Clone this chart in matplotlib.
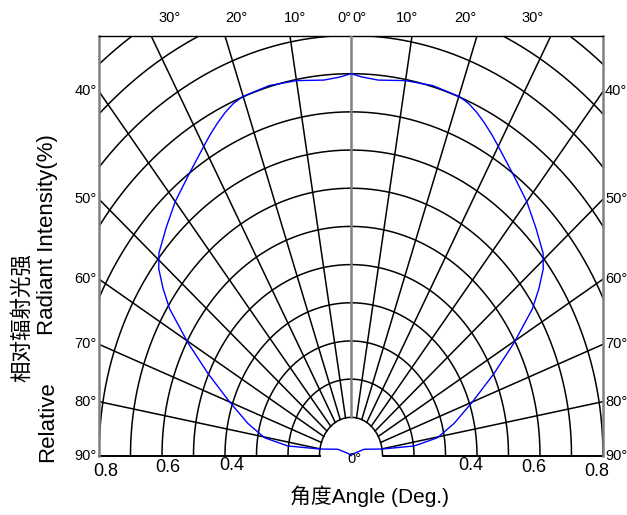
import numpy as np
import matplotlib
matplotlib.use("Agg")
import matplotlib.pyplot as plt

# ---------------- data (right half, mirrored for the left half) ----------------
angle_right = [0, 2, 5, 10, 15, 20, 22, 24, 26, 28, 30, 35, 40, 44.5, 49, 51.3, 53.8,
               56.3, 60.3, 64.7, 70, 75.6, 80.4, 82.9, 80.3, 68.7, 60, 90]
intensity_right = [1.000, 0.992, 0.987, 0.997, 1.003, 1.001, 0.995, 0.983, 0.968, 0.952,
                   0.935, 0.898, 0.868, 0.837, 0.808, 0.782, 0.739, 0.692, 0.596, 0.502,
                   0.410, 0.338, 0.278, 0.202, 0.101, 0.045, 0.011, 0.0]

ring_radii = [round(0.1 * k, 1) for k in range(1, 16)]
spoke_angles = list(range(-90, 91, 10))
top_labels = [-30, -20, -10, 0, 0, 10, 20, 30]
side_labels = [40, 50, 60, 70, 80, 90]
bottom_ticks_left = [0.8, 0.6, 0.4]
bottom_ticks_right = [0.4, 0.6, 0.8]

LAT = ['Liberation Sans', 'DejaVu Sans']
MIX = ['Liberation Sans', 'Noto Sans CJK SC']

W, H = 627, 515
fig = plt.figure(figsize=(W / 100, H / 100), dpi=100)
L, R, T, B = 99, 603, 35.5, 455.5
ax = fig.add_axes([L / W, (H - B) / H, (R - L) / W, (B - T) / H])
ax.set_xlim(-0.8, 0.8)
ax.set_ylim(0, 1.1)
ax.set_xticks([])
ax.set_yticks([])
ax.spines['bottom'].set_visible(False)
for s in ('left', 'right'):
    ax.spines[s].set_color('#808080')
    ax.spines[s].set_linewidth(1.8)
ax.spines['top'].set_color('black')
ax.spines['top'].set_linewidth(1.0)

# rings
t = np.linspace(0, np.pi, 600)
for r in ring_radii:
    ax.plot(r * np.cos(t), r * np.sin(t), color='black', lw=1.1, zorder=2)

# spokes
for a in spoke_angles:
    th = np.deg2rad(a)
    if abs(a) == 90:
        ax.plot([0.1 * np.sign(a), 0.8 * np.sign(a)], [0, 0], color='black',
                lw=1.4, clip_on=False, zorder=2)
    elif a == 0:
        ax.plot([0, 0], [0.1, 1.2], color='#808080', lw=1.8, zorder=3)
    else:
        ax.plot([0.1 * np.sin(th), 2 * np.sin(th)], [0.1 * np.cos(th), 2 * np.cos(th)],
                color='black', lw=1.1, zorder=2)

# curve
ang = np.array(angle_right, dtype=float)
inten = np.array(intensity_right, dtype=float)
full_ang = np.concatenate([-ang[::-1], ang[1:]])
full_r = np.concatenate([inten[::-1], inten[1:]])
th = np.deg2rad(full_ang)
ax.plot(full_r * np.sin(th), full_r * np.cos(th), color='#0000ff', lw=1.0,
        zorder=4, clip_on=False, solid_joinstyle='round')

# top labels
xt = ax.get_xaxis_transform()
ytop = (B - 18) / (B - T)
for i, a in enumerate(top_labels):
    if a == 0:
        if i == 3:
            ax.text(0.001, ytop, "0°", transform=xt, ha='right', va='center',
                    fontsize=10.5, family=LAT)
        else:
            ax.text(0.003, ytop, "0°", transform=xt, ha='left', va='center',
                    fontsize=10.5, family=LAT)
        continue
    x = np.tan(np.deg2rad(a))
    ax.text(x, ytop, f"{abs(a)}°", transform=xt, ha='center', va='center',
            fontsize=10.5, family=LAT)

# side labels
yt = ax.get_yaxis_transform()
for a in side_labels:
    yv = 0.8 / np.tan(np.deg2rad(a)) if a != 90 else 0.0
    ax.text(1.004, yv, f"{a}°", transform=yt, ha='left', va='center',
            fontsize=10.5, family=LAT)
    ax.text(-0.004, yv, f"{a}°", transform=yt, ha='right', va='center',
            fontsize=10.5, family=LAT)

ax.text(0.012, -0.008, "0°", ha='center', va='center', fontsize=10.5,
        family=LAT, zorder=5)

# bottom value labels
offs = {0.8: 471, 0.6: 468, 0.4: 466}
for v in bottom_ticks_left:
    ax.text(-v + 0.02, (B - offs[v]) / (B - T) * 1.1, f"{v}", ha='center', va='center',
            fontsize=13, family=LAT, clip_on=False)
for v in bottom_ticks_right:
    ax.text(v - 0.02, (B - offs[v]) / (B - T) * 1.1, f"{v}", ha='center', va='center',
            fontsize=13, family=LAT, clip_on=False)

# axis titles
fig.text(369 / W, 1 - 496 / H, "角度Angle (Deg.)", ha='center', va='center',
         fontsize=15, family=MIX)
fig.text(22 / W, 1 - 318 / H, "相对辐射光强", ha='center', va='center', rotation=90,
         fontsize=15.5, family=['Noto Sans CJK SC'])
fig.text(48 / W, 1 - 462 / H, "Relative", ha='center', va='bottom', rotation=90,
         fontsize=16, family=LAT)
fig.text(48 / W, 1 - 335 / H, "Radiant Intensity(%)", ha='center', va='bottom',
         rotation=90, fontsize=16, family=LAT)

fig.savefig("out.png", dpi=100)
